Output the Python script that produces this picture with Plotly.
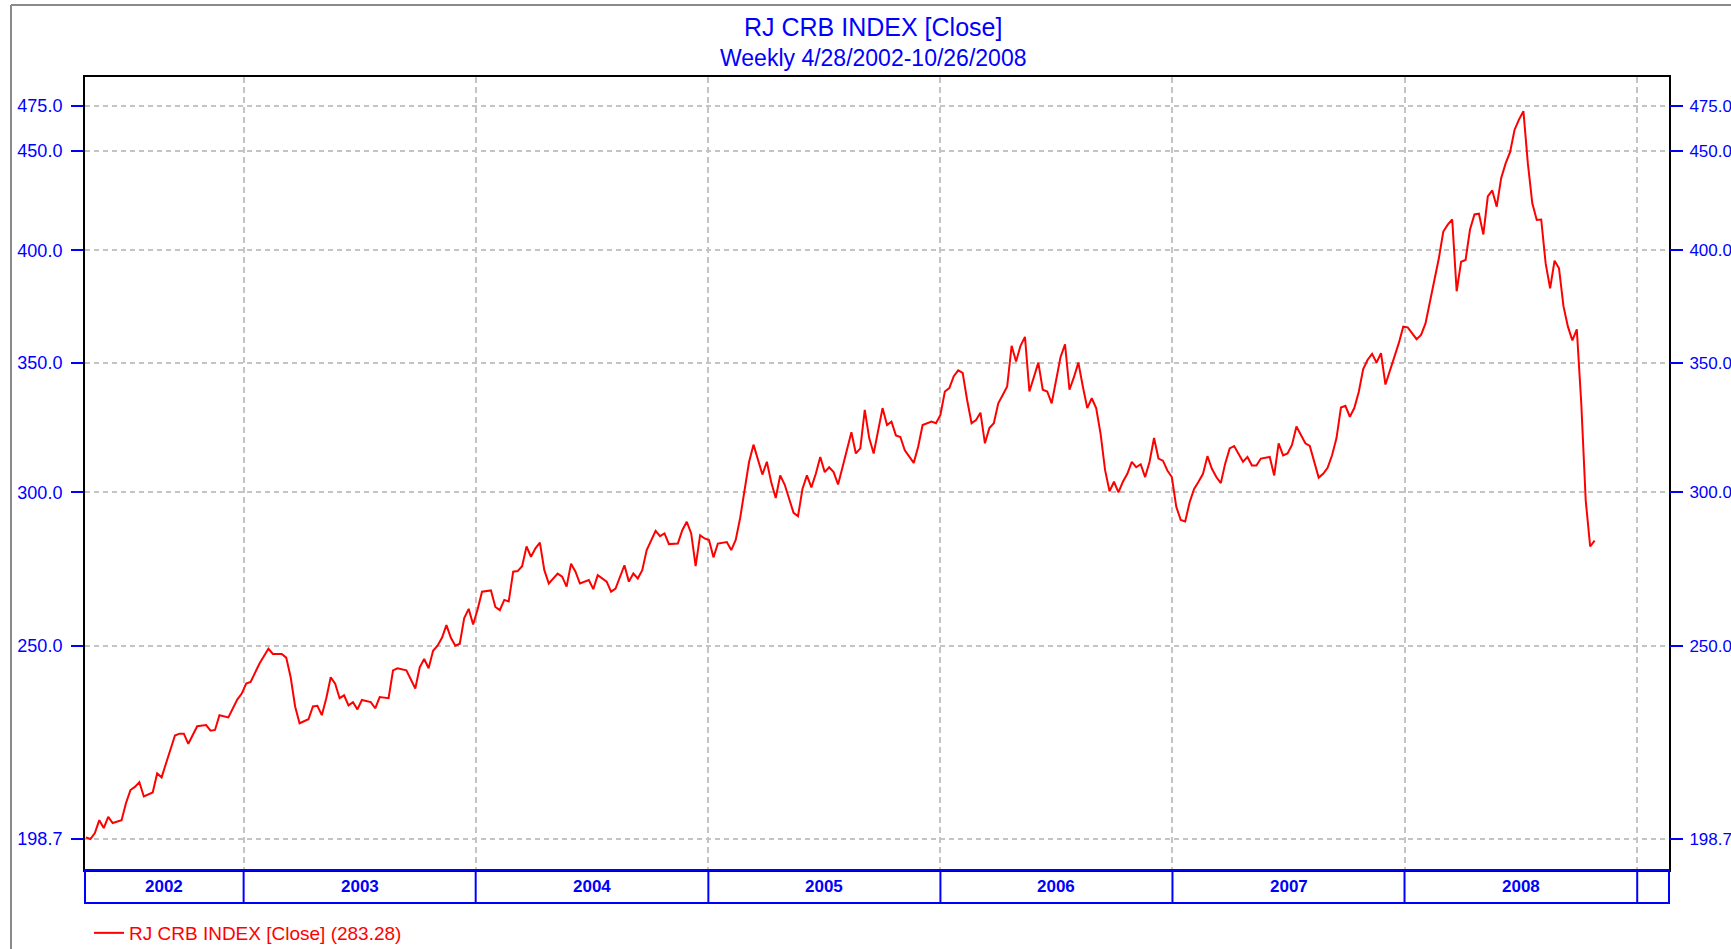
import datetime as dt
import plotly.graph_objects as go

# ---------------- data ----------------
start_date = "2002-04-28"          # first weekly close
week_index = [
    0, 1, 2, 3, 4, 5, 6, 8, 9, 10, 11, 12, 13, 15, 16, 17, 18, 20, 21, 22, 23, 25, 27, 28, 29, 30,
    32, 34, 35, 36, 37, 39, 41, 42, 44, 45, 46, 47, 48, 50, 51, 52, 53, 54, 55, 56, 57, 58, 59, 60,
    61, 62, 64, 65, 66, 68, 69, 70, 72, 74, 75, 76, 77, 78, 79, 80, 81, 82, 83, 84, 85, 86, 87, 88,
    89, 91, 92, 93, 94, 95, 96, 97, 98, 99, 100, 101, 102, 103, 104, 106, 107, 108, 109, 110, 111,
    113, 114, 115, 117, 118, 119, 120, 121, 122, 123, 124, 125, 126, 128, 129, 130, 131, 133, 134,
    135, 136, 137, 138, 139, 140, 141, 142, 144, 145, 146, 147, 148, 149, 150, 152, 153, 154, 155,
    156, 157, 158, 159, 160, 161, 162, 163, 164, 165, 166, 167, 168, 169, 170, 171, 172, 173, 174,
    175, 176, 177, 178, 179, 180, 181, 182, 183, 184, 186, 187, 188, 190, 191, 192, 193, 194, 195,
    196, 197, 198, 199, 200, 201, 202, 203, 204, 205, 206, 207, 208, 209, 210, 211, 212, 213, 214,
    215, 216, 217, 218, 219, 220, 221, 222, 223, 224, 225, 226, 227, 228, 229, 230, 231, 232, 233,
    234, 235, 236, 237, 238, 239, 240, 241, 242, 243, 244, 245, 246, 247, 248, 249, 250, 251, 252,
    253, 254, 255, 256, 257, 258, 260, 261, 262, 263, 264, 266, 267, 268, 269, 270, 271, 272, 273,
    274, 275, 276, 277, 278, 279, 280, 281, 282, 283, 284, 285, 286, 287, 288, 289, 290, 291, 292,
    293, 294, 295, 296, 297, 299, 300, 301, 302, 303, 304, 305, 306, 307, 308, 309, 310, 311, 312,
    313, 314, 315, 316, 317, 318, 319, 320, 321, 322, 323, 324, 325, 326, 327, 328, 329, 330, 331,
    332, 333, 334, 335, 336, 337, 338, 339,
]
close_values = [
    199.1, 198.7, 200.1, 203.2, 201.3, 204.0, 202.5, 203.2, 207.4, 210.6, 211.4, 212.6, 209.0, 210.0,
    214.8, 213.8, 217.4, 224.7, 225.2, 225.2, 222.5, 227.2, 227.5, 226.0, 226.2, 230.2,
    229.6, 234.5, 236.2, 239.0, 239.5, 244.8, 249.1, 247.6, 247.6, 246.5, 240.8, 232.6, 228.0, 229.1,
    232.6, 232.8, 230.2, 234.9, 240.8, 239.0, 234.9, 235.7, 232.9, 233.8,
    231.8, 234.4, 233.8, 232.1, 235.2, 234.9, 242.8, 243.4, 242.8, 237.6, 243.7, 246.1, 243.4, 248.5,
    250.0, 252.4, 256.2, 252.4, 250.0, 250.6, 258.4, 261.2, 256.4, 261.0,
    266.6, 267.0, 261.8, 260.8, 264.0, 263.5, 273.0, 273.2, 274.8, 281.3, 277.9, 280.7, 282.6, 273.5,
    269.2, 272.4, 271.4, 268.2, 275.6, 273.0, 269.2,
    270.3, 267.4, 271.9, 269.8, 266.6, 267.6, 271.4, 275.1, 269.8, 272.4, 270.8, 273.5, 280.1, 286.6,
    284.8, 285.7, 282.1, 282.3, 286.8,
    289.7, 285.7, 274.8, 285.1, 284.0, 283.5, 277.7, 282.3, 282.8, 280.1, 283.5, 291.0, 301.0, 311.0,
    317.5, 306.4, 311.1, 303.5, 298.0,
    306.1, 302.8, 298.0, 292.8, 291.6, 301.2, 306.1, 301.8, 306.7, 312.9, 307.3, 309.1, 307.3, 302.8,
    309.1, 316.1, 322.2, 314.2, 316.1,
    330.9, 320.0, 314.2, 323.2, 331.6, 325.0, 326.3, 321.0, 320.4, 315.4, 310.7, 316.7, 325.0, 326.3,
    325.7, 328.9, 338.2, 339.6, 344.4,
    346.8, 345.8, 334.8, 325.7, 326.9, 329.8, 318.0, 323.8, 325.7, 333.5, 336.8, 340.2, 357.1, 350.5,
    357.1, 360.9, 338.2, 343.6, 350.0,
    338.9, 338.2, 333.5, 342.3, 352.4, 357.7, 338.9, 344.0, 350.0, 340.2, 331.6, 335.5, 331.6, 321.5,
    308.0, 300.4, 303.8, 300.0, 303.8,
    306.7, 311.1, 309.1, 310.2, 305.5, 311.1, 320.0, 312.3, 311.5, 307.9, 305.5, 294.9, 290.3, 289.8,
    296.5, 301.2, 303.8, 306.7, 313.2,
    308.5, 305.5, 303.3, 310.5, 316.1, 317.0, 311.1, 312.9, 309.7, 309.7, 312.3, 312.9, 306.1, 318.0,
    313.5, 314.2, 317.4, 324.4, 321.0,
    318.0, 317.0, 311.5, 305.3, 306.7, 308.9, 313.5, 320.0, 331.8, 332.5, 328.2, 331.6, 338.0, 347.3,
    351.2, 353.7, 350.0, 354.0, 341.0,
    346.6, 352.6, 358.2, 365.3, 365.0, 359.9, 361.7, 366.7, 377.1, 386.1, 396.2, 409.0, 412.4, 414.9,
    381.0, 394.6, 395.4, 410.0, 417.4,
    417.8, 407.6, 426.5, 429.5, 421.3, 435.8, 443.5, 449.5, 461.5, 467.2, 471.9, 443.5, 423.0, 414.7,
    414.9, 393.8, 382.3, 395.1, 391.5,
    374.3, 365.3, 359.4, 364.1, 333.5, 297.1, 281.3, 283.28,
]
year_labels = ["2002", "2003", "2004", "2005", "2006", "2007", "2008"]
year_starts = ["2003-01-01", "2004-01-01", "2005-01-01", "2006-01-01",
               "2007-01-01", "2008-01-01", "2009-01-01"]
y_tick_values = [198.7, 250, 300, 350, 400, 450, 475]
y_tick_text = ["198.7", "250.0", "300.0", "350.0", "400.0", "450.0", "475.0"]

title_line1 = "RJ CRB INDEX [Close]"
title_line2 = "Weekly 4/28/2002-10/26/2008"
series_name = "RJ CRB INDEX [Close]"

# ---------------- derived ----------------
d0 = dt.datetime.strptime(start_date, "%Y-%m-%d")
dates = [d0 + dt.timedelta(days=7 * w) for w in week_index]

x_range = [dt.datetime(2002, 4, 26, 12), dt.datetime(2009, 2, 20)]
y_range = [2.2822, 2.6915]

BLUE = "#0000ff"
GRID = "#c4c4c4"
FONT = "Liberation Sans, Arial, sans-serif"

W, H = 1731, 949
ML, MR, MT, MB = 85, 62, 77, 79
PW, PH = W - ML - MR, H - MT - MB

fig = go.Figure()
fig.add_trace(go.Scatter(
    x=dates, y=close_values, mode="lines",
    line=dict(color="#ff0000", width=2),
    name=f"{series_name} ({close_values[-1]:.2f})",
    showlegend=True,
))
# same series on the mirrored right-hand scale (invisible; only makes the right axis render)
fig.add_trace(go.Scatter(
    x=dates, y=close_values, mode="lines", yaxis="y2",
    line=dict(color="rgba(0,0,0,0)", width=0), showlegend=False, hoverinfo="skip",
))

fig.update_layout(
    width=W, height=H, autosize=False,
    margin=dict(l=ML, r=MR, t=MT, b=MB, autoexpand=False),
    paper_bgcolor="white", plot_bgcolor="white",
    font=dict(family=FONT, color=BLUE),
    showlegend=True,
    legend=dict(xref="container", yref="container",
                x=89 / W, y=1 - 914 / H, xanchor="left", yanchor="top",
                font=dict(family=FONT, size=19, color="#ff0000"),
                itemwidth=30,
                bgcolor="rgba(0,0,0,0)", borderwidth=0, tracegroupgap=0),
    xaxis=dict(
        type="date", range=x_range,
        tickmode="array", tickvals=year_starts, showticklabels=False, ticks="",
        showgrid=True, gridcolor=GRID, gridwidth=1.5, griddash="6px,4px",
        showline=True, linecolor="black", linewidth=2, mirror=True, zeroline=False,
    ),
    yaxis=dict(
        type="log", range=y_range,
        tickmode="array", tickvals=y_tick_values, ticktext=y_tick_text,
        tickfont=dict(family=FONT, size=18, color=BLUE),
        ticks="outside", ticklen=12, tickwidth=2, tickcolor=BLUE, ticklabelstandoff=5,
        showgrid=True, gridcolor=GRID, gridwidth=1.5, griddash="5px,4px",
        showline=True, linecolor="black", linewidth=2, mirror=True, zeroline=False,
    ),
    yaxis2=dict(
        type="log", range=y_range, overlaying="y", side="right",
        tickmode="array", tickvals=y_tick_values, ticktext=y_tick_text,
        tickfont=dict(family=FONT, size=17, color=BLUE),
        ticks="outside", ticklen=13, tickwidth=2, tickcolor=BLUE, ticklabelstandoff=3,
        showgrid=False, showline=False, zeroline=False,
    ),
)

# titles
fig.add_annotation(text=title_line1, xref="paper", yref="paper", x=0.4975, y=1.063,
                   xanchor="center", yanchor="middle", showarrow=False,
                   font=dict(family=FONT, size=25, color=BLUE))
fig.add_annotation(text=title_line2, xref="paper", yref="paper", x=0.4975, y=1.024,
                   xanchor="center", yanchor="middle", showarrow=False,
                   font=dict(family=FONT, size=23, color=BLUE))

# year band below the plot
band_h = 33 / PH
fig.add_shape(type="rect", xref="paper", yref="paper", x0=0, x1=1, y0=-band_h, y1=0,
              line=dict(color=BLUE, width=2), fillcolor="rgba(0,0,0,0)", layer="above")
bounds = [x_range[0]] + [dt.datetime.strptime(s, "%Y-%m-%d") for s in year_starts]
for ys in year_starts:
    fig.add_shape(type="line", xref="x", yref="paper", x0=ys, x1=ys, y0=-band_h, y1=0,
                  line=dict(color=BLUE, width=2), layer="above")
for i, lab in enumerate(year_labels):
    mid = bounds[i] + (bounds[i + 1] - bounds[i]) / 2
    fig.add_annotation(text=f"<b>{lab}</b>", xref="x", yref="paper", x=mid, y=-band_h / 2,
                       xanchor="center", yanchor="middle", showarrow=False,
                       font=dict(family=FONT, size=17, color=BLUE))

# outer grey frame (top and left edges visible in reference)
fx = (11 - ML) / PW
fy = 1 + (MT - 5) / PH
fig.add_shape(type="line", xref="paper", yref="paper", x0=fx, x1=1.1, y0=fy, y1=fy,
              line=dict(color="#8a8a8a", width=2))
fig.add_shape(type="line", xref="paper", yref="paper", x0=fx, x1=fx, y0=fy, y1=-0.2,
              line=dict(color="#8a8a8a", width=2))

fig.write_html(
    "out.html",
    config={"displayModeBar": False},
    post_script="document.body.style.margin='0';document.body.style.overflow='hidden';",
)
